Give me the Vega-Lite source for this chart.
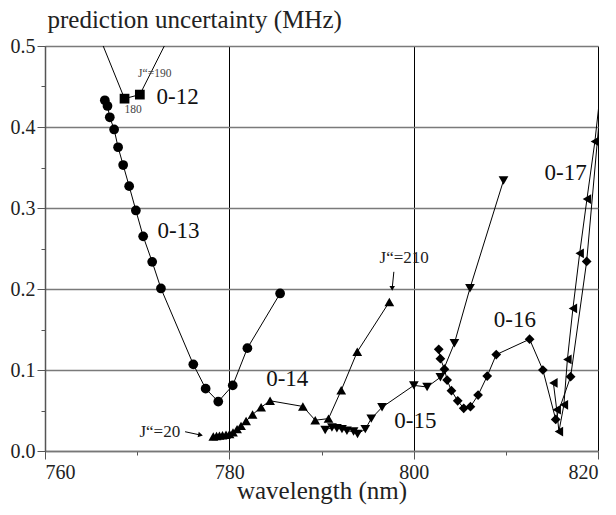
{
  "$schema": "https://vega.github.io/schema/vega-lite/v6.json",
  "width": 553,
  "height": 405,
  "autosize": {"type": "none"},
  "padding": {"left": 45, "top": 46, "right": 18, "bottom": 64},
  "background": "white",
  "config": {"view": {"stroke": null}, "font": "'Liberation Serif', 'Times New Roman', Times, 'DejaVu Serif', serif"},
  "datasets": {
    "pts": [
      {"series": "0-12", "x": 762.75, "y": 0.6},
      {"series": "0-12", "x": 768.63, "y": 0.435},
      {"series": "0-12", "x": 770.29, "y": 0.44},
      {"series": "0-12", "x": 777.37, "y": 0.6},
      {"series": "0-13", "x": 766.49, "y": 0.433},
      {"series": "0-13", "x": 766.78, "y": 0.426},
      {"series": "0-13", "x": 767.03, "y": 0.412},
      {"series": "0-13", "x": 767.5, "y": 0.397},
      {"series": "0-13", "x": 767.93, "y": 0.375},
      {"series": "0-13", "x": 768.48, "y": 0.353},
      {"series": "0-13", "x": 769.13, "y": 0.327},
      {"series": "0-13", "x": 769.86, "y": 0.297},
      {"series": "0-13", "x": 770.65, "y": 0.265},
      {"series": "0-13", "x": 771.63, "y": 0.2335},
      {"series": "0-13", "x": 772.58, "y": 0.2007},
      {"series": "0-13", "x": 776.09, "y": 0.107},
      {"series": "0-13", "x": 777.43, "y": 0.077},
      {"series": "0-13", "x": 778.8, "y": 0.061},
      {"series": "0-13", "x": 780.37, "y": 0.081},
      {"series": "0-13", "x": 781.96, "y": 0.127},
      {"series": "0-13", "x": 785.51, "y": 0.1945},
      {"series": "0-14", "x": 778.26, "y": 0.018},
      {"series": "0-14", "x": 778.61, "y": 0.0185},
      {"series": "0-14", "x": 778.93, "y": 0.019},
      {"series": "0-14", "x": 779.26, "y": 0.0195},
      {"series": "0-14", "x": 779.64, "y": 0.02},
      {"series": "0-14", "x": 780.02, "y": 0.021},
      {"series": "0-14", "x": 780.4, "y": 0.023},
      {"series": "0-14", "x": 780.84, "y": 0.027},
      {"series": "0-14", "x": 781.27, "y": 0.031},
      {"series": "0-14", "x": 781.82, "y": 0.037},
      {"series": "0-14", "x": 782.52, "y": 0.045},
      {"series": "0-14", "x": 783.45, "y": 0.054},
      {"series": "0-14", "x": 784.42, "y": 0.062},
      {"series": "0-14", "x": 787.98, "y": 0.055},
      {"series": "0-14", "x": 789.32, "y": 0.038},
      {"series": "0-14", "x": 790.76, "y": 0.04},
      {"series": "0-14", "x": 792.14, "y": 0.075},
      {"series": "0-14", "x": 793.88, "y": 0.1225},
      {"series": "0-14", "x": 797.36, "y": 0.184},
      {"series": "0-15", "x": 790.4, "y": 0.026},
      {"series": "0-15", "x": 791.13, "y": 0.029},
      {"series": "0-15", "x": 791.67, "y": 0.028},
      {"series": "0-15", "x": 792.22, "y": 0.027},
      {"series": "0-15", "x": 792.76, "y": 0.025},
      {"series": "0-15", "x": 793.48, "y": 0.024},
      {"series": "0-15", "x": 793.91, "y": 0.021},
      {"series": "0-15", "x": 794.75, "y": 0.027},
      {"series": "0-15", "x": 795.4, "y": 0.04},
      {"series": "0-15", "x": 796.57, "y": 0.054},
      {"series": "0-15", "x": 800.02, "y": 0.081},
      {"series": "0-15", "x": 801.46, "y": 0.079},
      {"series": "0-15", "x": 802.9, "y": 0.091},
      {"series": "0-15", "x": 804.42, "y": 0.133},
      {"series": "0-15", "x": 806.11, "y": 0.201},
      {"series": "0-15", "x": 809.75, "y": 0.334},
      {"series": "0-16", "x": 802.72, "y": 0.1255},
      {"series": "0-16", "x": 802.9, "y": 0.114},
      {"series": "0-16", "x": 803.34, "y": 0.101},
      {"series": "0-16", "x": 803.63, "y": 0.0876},
      {"series": "0-16", "x": 804.1, "y": 0.0744},
      {"series": "0-16", "x": 804.78, "y": 0.062},
      {"series": "0-16", "x": 805.43, "y": 0.0527},
      {"series": "0-16", "x": 806.16, "y": 0.0547},
      {"series": "0-16", "x": 806.99, "y": 0.069},
      {"series": "0-16", "x": 807.98, "y": 0.0925},
      {"series": "0-16", "x": 808.96, "y": 0.119},
      {"series": "0-16", "x": 812.58, "y": 0.138},
      {"series": "0-16", "x": 814.02, "y": 0.1},
      {"series": "0-16", "x": 815.41, "y": 0.039},
      {"series": "0-16", "x": 817.03, "y": 0.0917},
      {"series": "0-16", "x": 818.77, "y": 0.234},
      {"series": "0-16", "x": 821.0, "y": 0.52},
      {"series": "0-17", "x": 815.16, "y": 0.084},
      {"series": "0-17", "x": 815.52, "y": 0.051},
      {"series": "0-17", "x": 815.76, "y": 0.024},
      {"series": "0-17", "x": 816.3, "y": 0.057},
      {"series": "0-17", "x": 816.68, "y": 0.113},
      {"series": "0-17", "x": 817.28, "y": 0.176},
      {"series": "0-17", "x": 818.01, "y": 0.244},
      {"series": "0-17", "x": 818.8, "y": 0.311},
      {"series": "0-17", "x": 819.66, "y": 0.382},
      {"series": "0-17", "x": 821.0, "y": 0.52}
    ],
    "labels": [
      {"kind": "band", "x": 772.1, "y": 0.437, "text": "0-12"},
      {"kind": "band", "x": 772.2, "y": 0.272, "text": "0-13"},
      {"kind": "band", "x": 784.0, "y": 0.0885, "text": "0-14"},
      {"kind": "band", "x": 797.9, "y": 0.0374, "text": "0-15"},
      {"kind": "band", "x": 808.7, "y": 0.1616, "text": "0-16"},
      {"kind": "band", "x": 814.2, "y": 0.3426, "text": "0-17"},
      {"kind": "j", "x": 796.3, "y": 0.2377, "text": "J“=210"},
      {"kind": "j", "x": 770.24, "y": 0.0238, "text": "J“=20"},
      {"kind": "small", "x": 770.1, "y": 0.4656, "text": "J“=190"},
      {"kind": "small", "x": 768.63, "y": 0.4207, "text": "180"}
    ],
    "arrows": [
      {"dir": "right", "x": 775.2, "y": 0.0238, "x2": 776.87, "y2": 0.0197},
      {"dir": "down", "x": 797.85, "y": 0.2212, "x2": 797.67, "y2": 0.2007}
    ]
  },
  "encoding": {
    "x": {
      "field": "x", "type": "quantitative",
      "scale": {"domain": [760, 820], "nice": false, "zero": false},
      "axis": {
        "values": [760, 770, 780, 790, 800, 810, 820],
        "labelExpr": "datum.value % 20 === 0 ? datum.label : ''",
        "title": "wavelength (nm)",
        "titleFontSize": 25, "titleFontWeight": "normal", "titleColor": "#222",
        "titleY": 47, "titleBaseline": "alphabetic",
        "labelFontSize": 20, "labelColor": "#222", "labelPadding": 3,
        "grid": true,
        "gridColor": "#000", "gridWidth": 1,
        "gridOpacity": {"condition": {"test": "datum.value % 20 === 0", "value": 1}, "value": 0},
        "tickSize": {"condition": {"test": "datum.value % 20 === 0", "value": 8}, "value": 4},
        "tickColor": "#555", "domainColor": "#777", "domainWidth": 1.5
      }
    },
    "y": {
      "field": "y", "type": "quantitative",
      "scale": {"domain": [0, 0.5], "nice": false},
      "axis": {
        "values": [0, 0.05, 0.1, 0.15, 0.2, 0.25, 0.3, 0.35, 0.4, 0.45, 0.5],
        "labelExpr": "abs(datum.value*10 - round(datum.value*10)) < 0.01 ? format(datum.value, '.1f') : ''",
        "title": "prediction uncertainty (MHz)",
        "titleFontSize": 25, "titleFontWeight": "normal", "titleColor": "#222",
        "titleAngle": 0, "titleAlign": "left", "titleBaseline": "alphabetic",
        "titleX": 2, "titleY": -19,
        "labelFontSize": 20, "labelColor": "#222", "labelPadding": 2,
        "grid": true,
        "gridColor": "#7a7a7a", "gridWidth": 1.5,
        "gridOpacity": {"condition": {"test": "abs(datum.value*10 - round(datum.value*10)) < 0.01", "value": 1}, "value": 0},
        "tickSize": {"condition": {"test": "abs(datum.value*10 - round(datum.value*10)) < 0.01", "value": 8}, "value": 4},
        "tickColor": "#555", "domainColor": "#555", "domainWidth": 1.5
      }
    }
  },
  "layer": [
    {
      "data": {"name": "pts"},
      "mark": {"type": "line", "clip": true, "color": "black", "strokeWidth": 1},
      "encoding": {"detail": {"field": "series", "type": "nominal"}}
    },
    {
      "data": {"name": "pts"},
      "mark": {"type": "point", "filled": true, "clip": true, "color": "black", "opacity": 1, "size": 95},
      "encoding": {
        "shape": {
          "field": "series", "type": "nominal",
          "scale": {"domain": ["0-12", "0-13", "0-14", "0-15", "0-16", "0-17"],
                    "range": ["square", "circle", "triangle-up", "triangle-down", "diamond", "triangle-left"]},
          "legend": null
        }
      }
    },
    {
      "data": {"name": "labels"},
      "transform": [{"filter": "datum.kind === 'band'"}],
      "mark": {"type": "text", "align": "left", "baseline": "middle", "fontSize": 23, "color": "#111"},
      "encoding": {"text": {"field": "text"}}
    },
    {
      "data": {"name": "labels"},
      "transform": [{"filter": "datum.kind === 'j'"}],
      "mark": {"type": "text", "align": "left", "baseline": "middle", "fontSize": 17, "color": "#222"},
      "encoding": {"text": {"field": "text"}}
    },
    {
      "data": {"name": "labels"},
      "transform": [{"filter": "datum.kind === 'small'"}],
      "mark": {"type": "text", "align": "left", "baseline": "middle", "fontSize": 11.5, "color": "#444"},
      "encoding": {"text": {"field": "text"}}
    },
    {
      "data": {"name": "arrows"},
      "mark": {"type": "rule", "color": "black", "strokeWidth": 1},
      "encoding": {"x2": {"field": "x2"}, "y2": {"field": "y2"}}
    },
    {
      "data": {"name": "arrows"},
      "transform": [{"filter": "datum.dir === 'right'"}],
      "mark": {"type": "point", "shape": "triangle-right", "filled": true, "color": "black", "opacity": 1, "size": 30, "angle": 12},
      "encoding": {"x": {"field": "x2", "type": "quantitative"}, "y": {"field": "y2", "type": "quantitative"}}
    },
    {
      "data": {"name": "arrows"},
      "transform": [{"filter": "datum.dir === 'down'"}],
      "mark": {"type": "point", "shape": "triangle-down", "filled": true, "color": "black", "opacity": 1, "size": 30},
      "encoding": {"x": {"field": "x2", "type": "quantitative"}, "y": {"field": "y2", "type": "quantitative"}}
    }
  ]
}
